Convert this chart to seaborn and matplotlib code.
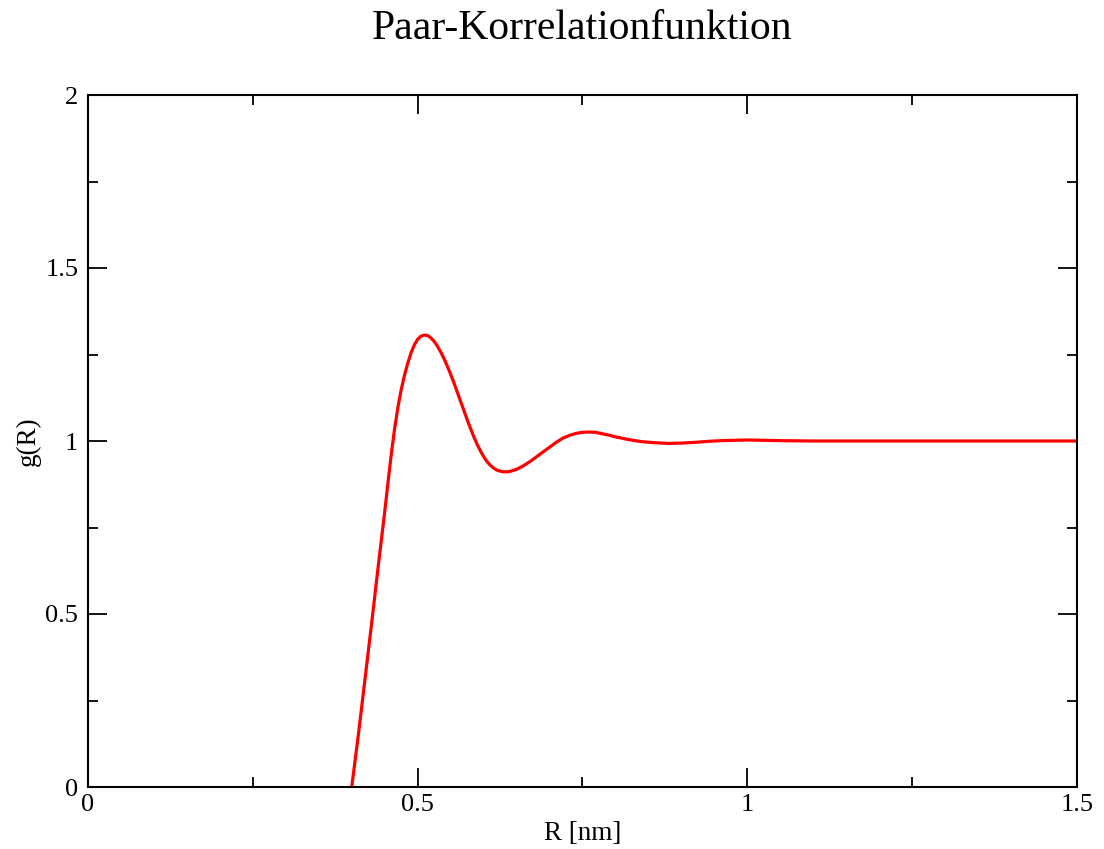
import matplotlib
matplotlib.use("Agg")
import matplotlib.pyplot as plt
import seaborn as sns
import pandas as pd
from matplotlib.ticker import MultipleLocator

# Data
r_nm = [0.400, 0.410, 0.420, 0.430, 0.440, 0.450, 0.455, 0.460, 0.465, 0.470,
        0.475, 0.480, 0.485, 0.490, 0.495, 0.500, 0.505, 0.510, 0.515, 0.520,
        0.525, 0.530, 0.535, 0.540, 0.545, 0.550, 0.555, 0.560, 0.565, 0.570,
        0.575, 0.580, 0.585, 0.590, 0.595, 0.600, 0.605, 0.610, 0.615, 0.620,
        0.625, 0.630, 0.635, 0.640, 0.650, 0.660, 0.670, 0.680, 0.690, 0.700,
        0.710, 0.720, 0.730, 0.740, 0.750, 0.760, 0.770, 0.780, 0.790, 0.800,
        0.820, 0.840, 0.860, 0.880, 0.900, 0.920, 0.940, 0.960, 0.980, 1.000,
        1.050, 1.100, 1.200, 1.300, 1.400, 1.500]
g_r = [0.000, 0.150, 0.310, 0.470, 0.635, 0.795, 0.880, 0.962, 1.035, 1.097,
       1.148, 1.190, 1.225, 1.255, 1.278, 1.294, 1.303, 1.306, 1.305, 1.298,
       1.288, 1.274, 1.257, 1.238, 1.216, 1.193, 1.168, 1.142, 1.115, 1.089,
       1.062, 1.037, 1.013, 0.991, 0.972, 0.955, 0.941, 0.930, 0.922, 0.916,
       0.913, 0.911, 0.911, 0.912, 0.918, 0.928, 0.940, 0.954, 0.968, 0.982,
       0.996, 1.008, 1.016, 1.022, 1.025, 1.026, 1.025, 1.021, 1.017, 1.012,
       1.004, 0.998, 0.995, 0.993, 0.994, 0.996, 0.999, 1.001, 1.002, 1.003,
       1.001, 1.000, 1.000, 1.000, 1.000, 1.000]

title = "Paar-Korrelationfunktion"
xlabel = "R [nm]"
ylabel = "g(R)"
xticks = [0, 0.5, 1, 1.5]
xticklabels = ["0", "0.5", "1", "1.5"]
yticks = [0, 0.5, 1, 1.5, 2]
yticklabels = ["0", "0.5", "1", "1.5", "2"]

sns.set_theme(style="white")
plt.rcParams["font.family"] = ["Liberation Serif", "DejaVu Serif"]

df = pd.DataFrame({"R": r_nm, "g": g_r})

fig = plt.figure(figsize=(11.04, 8.49), dpi=100)
ax = fig.add_axes([88/1104, 1-787/849, (1077-88)/1104, (787-95)/849])

sns.lineplot(data=df, x="R", y="g", ax=ax, color="#ff0000", linewidth=2.3,
             sort=False, estimator=None, solid_joinstyle="round",
             solid_capstyle="round")

ax.set_xlim(0, 1.5)
ax.set_ylim(0, 2)
ax.set_xticks(xticks)
ax.set_xticklabels(xticklabels)
ax.set_yticks(yticks)
ax.set_yticklabels(yticklabels)
ax.xaxis.set_minor_locator(MultipleLocator(0.25))
ax.yaxis.set_minor_locator(MultipleLocator(0.25))

ax.tick_params(which="major", direction="in", length=14, width=1.3, color="black",
               top=True, right=True, bottom=True, left=True, labelsize=19,
               labelcolor="black")
ax.tick_params(which="minor", direction="in", length=7, width=1.3, color="black",
               top=True, right=True, bottom=True, left=True)
ax.tick_params(axis="x", which="major", pad=5)
ax.tick_params(axis="y", which="major", pad=7)

for s in ax.spines.values():
    s.set_visible(True)
    s.set_color("black")
    s.set_linewidth(1.5)

ax.set_xlabel(xlabel, fontsize=19.5, color="black", labelpad=4)
ax.set_ylabel(ylabel, fontsize=19.5, color="black", labelpad=3)
ax.set_title(title, fontsize=30, color="black", pad=40)
ax.grid(False)

fig.savefig("out.png", dpi=100, facecolor="white")
